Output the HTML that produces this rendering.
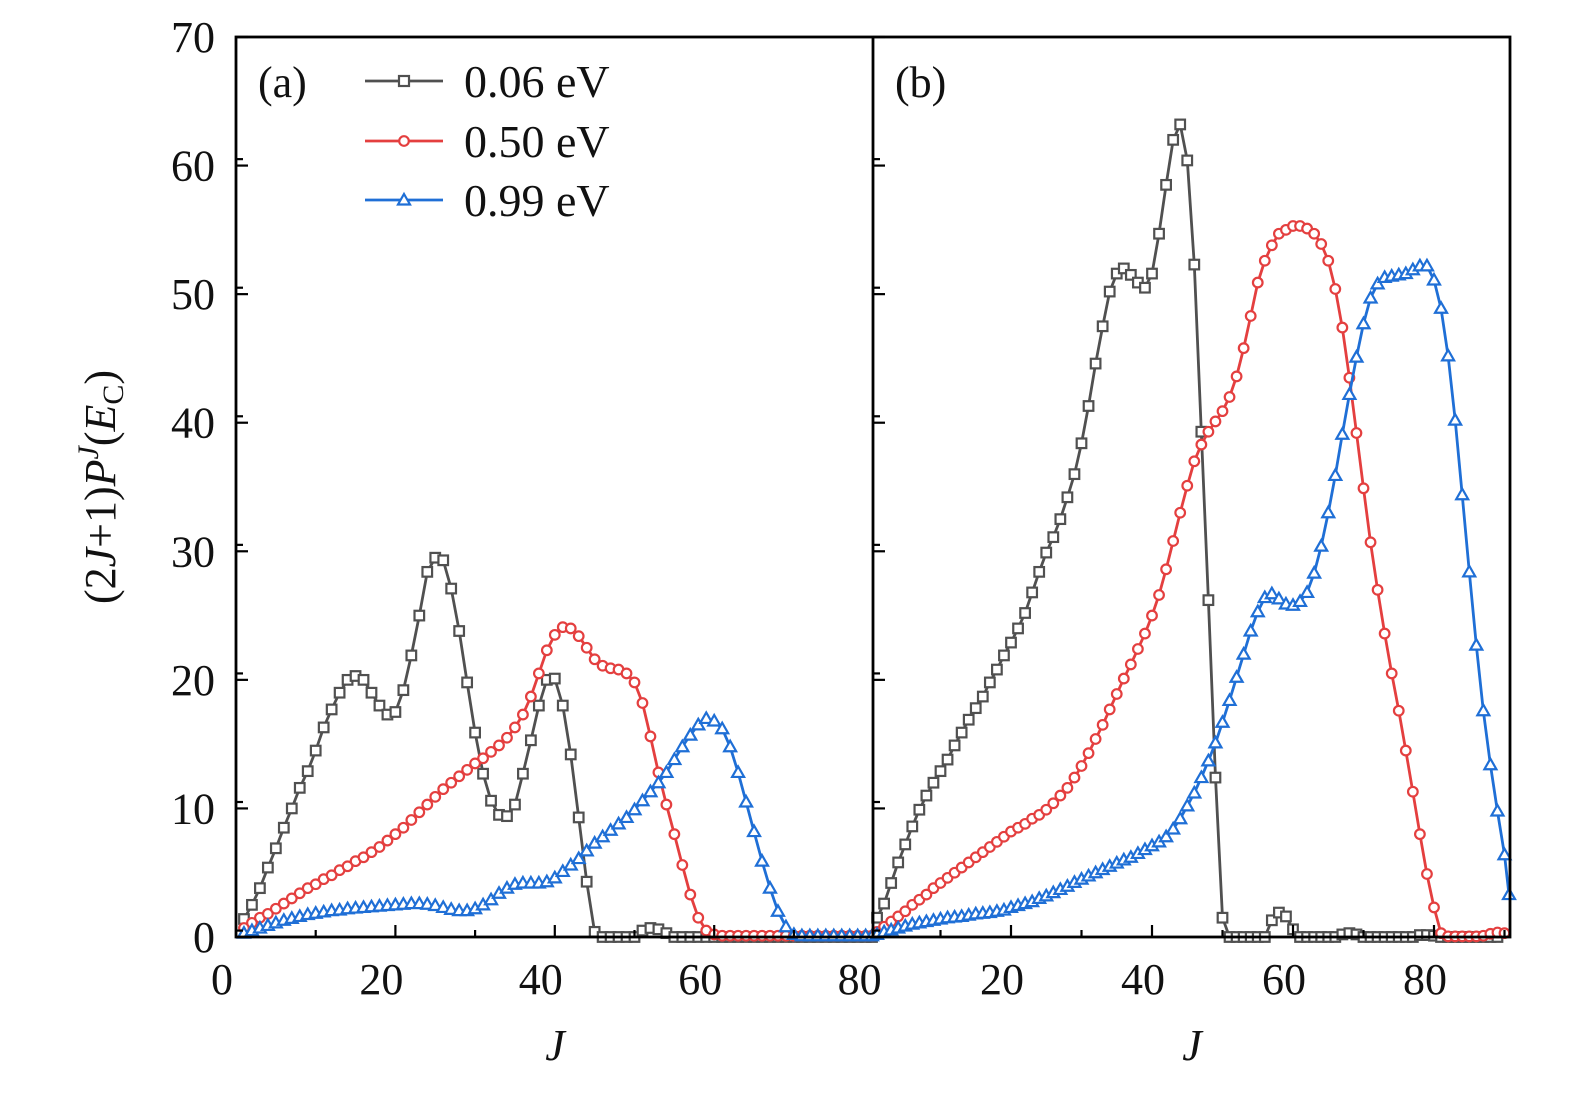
<!DOCTYPE html>
<html><head><meta charset="utf-8"><style>
html,body{margin:0;padding:0;background:#fff;}
svg{display:block;}
text{font-family:"Liberation Serif",serif;fill:#111;}
</style></head><body>
<svg id="chart" width="1575" height="1093" viewBox="0 0 1575 1093" xmlns="http://www.w3.org/2000/svg">
<rect x="0" y="0" width="1575" height="1093" fill="#fff"/>
<g id="plots"></g>
<g id="frame" fill="none" stroke="#000" stroke-width="2.8">
<rect x="236" y="37" width="1274" height="900"/>
<line x1="873" y1="37" x2="873" y2="937"/>
</g>
<g id="ticks"></g>
<text x="258" y="97" font-size="44">(a)</text>
<text x="895" y="97" font-size="44">(b)</text>
<g>
<g>
<line x1="365" y1="81" x2="443" y2="81" stroke="#505050" stroke-width="2.8"/>
<rect x="399" y="76" width="10" height="10" fill="#fff" stroke="#505050" stroke-width="2.2"/>
<text x="464" y="97" font-size="46">0.06 eV</text></g>
<g>
<line x1="365" y1="141" x2="443" y2="141" stroke="#e43f3f" stroke-width="2.8"/>
<circle cx="404" cy="141" r="4.8" fill="#fff" stroke="#e43f3f" stroke-width="2.2"/>
<text x="464" y="157" font-size="46">0.50 eV</text></g>
<g>
<line x1="365" y1="200" x2="443" y2="200" stroke="#1f6fd6" stroke-width="2.8"/>
<path d="M404 194 L410 204.5 L398 204.5 Z" fill="#fff" stroke="#1f6fd6" stroke-width="2.2"/>
<text x="464" y="216" font-size="46">0.99 eV</text></g>
</g>
<text x="555" y="1060" font-size="44" font-style="italic" text-anchor="middle">J</text>
<text x="1192" y="1060" font-size="44" font-style="italic" text-anchor="middle">J</text>
<text transform="translate(115,487) rotate(-90)" font-size="44" text-anchor="middle">(2<tspan font-style="italic">J</tspan>+1)<tspan font-style="italic">P</tspan><tspan font-style="italic" font-size="30" dy="-17">J</tspan><tspan dy="17">(</tspan><tspan font-style="italic">E</tspan><tspan font-size="30" dy="8">C</tspan><tspan dy="-8">)</tspan></text>
</svg>
<script>
const yTicks=[0,10,20,30,40,50,60,70];
const xTickLabelsA=[0,20,40,60,80];
const xTickLabelsB=[0,20,40,60,80];
const a006=[1.4,2.5,3.8,5.4,6.9,8.5,10.0,11.6,12.9,14.5,16.3,17.7,19.0,20.0,20.3,20.0,19.0,18.0,17.3,17.5,19.2,21.9,25.0,28.4,29.5,29.3,27.1,23.8,19.8,15.9,12.7,10.6,9.5,9.4,10.3,12.7,15.3,18.0,20.0,20.1,18.0,14.2,9.3,4.3,0.4,0,0,0,0,0,0.5,0.7,0.6,0.3,0,0,0,0,0,0,0,0,0,0,0,0,0,0,0,0,0,0,0,0,0,0,0,0,0,0];
const a050=[0.7,1.1,1.5,1.8,2.2,2.6,3.0,3.4,3.8,4.1,4.5,4.8,5.2,5.5,5.9,6.2,6.6,7.0,7.5,8.0,8.5,9.1,9.7,10.3,10.9,11.5,12.0,12.5,13.0,13.5,13.9,14.4,14.9,15.5,16.3,17.3,18.7,20.5,22.3,23.5,24.1,24.0,23.4,22.5,21.6,21.1,20.9,20.8,20.5,19.8,18.2,15.6,12.8,10.3,8.0,5.6,3.3,1.5,0.5,0.2,0.1,0.1,0.1,0.1,0.1,0.1,0.1,0.1,0.1,0.1,0.1,0.1,0.1,0.1,0.1,0.1,0.1,0.1,0.1,0.1];
const a099=[0.3,0.5,0.7,0.9,1.1,1.3,1.45,1.6,1.75,1.85,1.95,2.05,2.1,2.2,2.25,2.3,2.35,2.4,2.45,2.5,2.55,2.6,2.6,2.55,2.45,2.3,2.15,2.05,2.05,2.2,2.5,2.9,3.4,3.8,4.1,4.2,4.2,4.2,4.3,4.6,5.1,5.6,6.1,6.7,7.3,7.8,8.3,8.8,9.3,9.9,10.6,11.3,12.0,12.8,13.8,14.8,15.7,16.5,17.0,16.8,16.2,14.8,12.8,10.5,8.2,5.9,3.8,2.0,0.8,0.2,0.1,0.1,0.1,0.1,0.1,0.1,0.1,0.1,0.1,0.1];
const b006=[1.5,2.6,4.2,5.8,7.2,8.6,9.9,11.0,12.0,12.9,13.8,14.9,15.9,16.9,17.8,18.7,19.8,20.8,21.9,22.9,24.0,25.2,26.8,28.4,29.9,31.1,32.5,34.2,36.0,38.4,41.3,44.6,47.5,50.2,51.6,52.0,51.5,50.9,50.5,51.6,54.7,58.5,62.0,63.2,60.4,52.3,39.3,26.2,12.4,1.5,0,0,0,0,0,0,1.3,1.9,1.6,0.6,0,0,0,0,0,0,0.2,0.3,0.2,0,0,0,0,0,0,0,0,0.15,0.15,0.1,0,0,0,0,0,0,0,0,0];
const b050=[0.4,0.8,1.2,1.6,2.0,2.5,2.9,3.3,3.8,4.2,4.6,5.0,5.4,5.8,6.2,6.6,7.0,7.4,7.8,8.2,8.5,8.8,9.2,9.5,9.9,10.4,11.0,11.6,12.4,13.3,14.3,15.4,16.5,17.7,18.9,20.1,21.2,22.4,23.6,25.0,26.6,28.6,30.8,33.0,35.1,37.0,38.3,39.3,40.1,40.9,42.0,43.6,45.8,48.3,50.9,52.6,53.8,54.7,55.0,55.3,55.3,55.1,54.7,53.9,52.6,50.4,47.4,43.5,39.2,34.9,30.7,27.0,23.6,20.5,17.6,14.5,11.3,8.0,4.9,2.3,0.3,0.05,0.05,0.05,0.05,0.05,0.1,0.25,0.35,0.3];
const b099=[0.2,0.4,0.55,0.7,0.85,1.0,1.1,1.2,1.3,1.4,1.5,1.55,1.6,1.7,1.8,1.85,1.9,2.0,2.1,2.3,2.45,2.6,2.75,3.0,3.2,3.45,3.7,3.95,4.25,4.5,4.75,5.0,5.25,5.5,5.75,6.0,6.2,6.5,6.8,7.1,7.4,7.8,8.4,9.2,10.2,11.2,12.4,13.7,15.1,16.7,18.4,20.2,22.0,23.8,25.3,26.4,26.7,26.3,25.9,25.8,26.1,26.8,28.3,30.4,33.0,35.9,39.1,42.2,45.1,47.7,49.7,50.8,51.3,51.4,51.5,51.6,51.9,52.2,52.2,51.1,48.9,45.2,40.2,34.4,28.4,22.7,17.6,13.4,9.8,6.4,3.3];

const NS='http://www.w3.org/2000/svg';
const yScale=v=>937-v*900/70;
const xA=j=>236+j*7.97;
const xB=j=>870+j*7.05;
const plots=document.getElementById('plots');
const ticks=document.getElementById('ticks');
function mk(tag,attrs,parent){const e=document.createElementNS(NS,tag);for(const k in attrs)e.setAttribute(k,attrs[k]);parent.appendChild(e);return e;}

function drawSeries(vals,xf,color,shape,name,xmax){
  const g=mk('g',{},plots);
  
  
  const pts=[];
  vals.forEach((v,i)=>{const j=i+1;const x=xf(j);if(x<=xmax+2)pts.push([Math.min(x,xmax-1),yScale(v)]);});
  const line=mk('polyline',{points:pts.map(p=>p[0].toFixed(1)+','+p[1].toFixed(1)).join(' '),fill:'none',stroke:color,'stroke-width':2.8,'stroke-linejoin':'round'},g);
  
  
  pts.forEach(p=>{
    let m;
    if(shape==='square')m=mk('rect',{x:p[0]-4.8,y:p[1]-4.8,width:9.6,height:9.6,fill:'#fff',stroke:color,'stroke-width':2.2},g);
    else if(shape==='circle')m=mk('circle',{cx:p[0],cy:p[1],r:4.8,fill:'#fff',stroke:color,'stroke-width':2.2},g);
    else m=mk('path',{d:`M${p[0]} ${p[1]-6} L${p[0]+6} ${p[1]+4.5} L${p[0]-6} ${p[1]+4.5} Z`,fill:'#fff',stroke:color,'stroke-width':2.2},g);
    
    
  });
}
drawSeries(a006,xA,'#505050','square','series-a-0.06ev',873);
drawSeries(a050,xA,'#e43f3f','circle','series-a-0.50ev',873);
drawSeries(a099,xA,'#1f6fd6','triangle','series-a-0.99ev',873);
drawSeries(b006,xB,'#505050','square','series-b-0.06ev',1510);
drawSeries(b050,xB,'#e43f3f','circle','series-b-0.50ev',1510);
drawSeries(b099,xB,'#1f6fd6','triangle','series-b-0.99ev',1510);

yTicks.forEach(v=>{
  const y=yScale(v);
  [236,873].forEach(x0=>{
    const t=mk('line',{x1:x0,y1:y,x2:x0+12,y2:y,stroke:'#000','stroke-width':2.2},ticks);
    
    
    if(v<70){const m=mk('line',{x1:x0,y1:y-900/140,x2:x0+7,y2:y-900/140,stroke:'#000','stroke-width':2.2},ticks);
      
      }
  });
  const l=mk('text',{x:215,y:y+15,'font-size':44,'text-anchor':'end'},ticks);
  l.textContent=v;
  
  
});
function xTicks(labels,xf,xmin,xmax,labelOffset){
  for(let j=10;j<=90;j+=10){
    const x=xf(j);if(x<=xmin+3||x>=xmax-3)continue;
    const major=j%20===0;
    const t=mk('line',{x1:x,y1:937,x2:x,y2:937-(major?12:7),stroke:'#000','stroke-width':2.2},ticks);
    
    
  }
  labels.forEach(v=>{
    if(labelOffset>-10&&v===0)return;
    const l=mk('text',{x:xf(v)+labelOffset,y:994,'font-size':44,'text-anchor':'middle'},ticks);
    l.textContent=v;
    
    
  });
}
xTicks(xTickLabelsA,xA,236,873,-14);
xTicks(xTickLabelsB,xB,873,1510,-9);
</script>
</body></html>
